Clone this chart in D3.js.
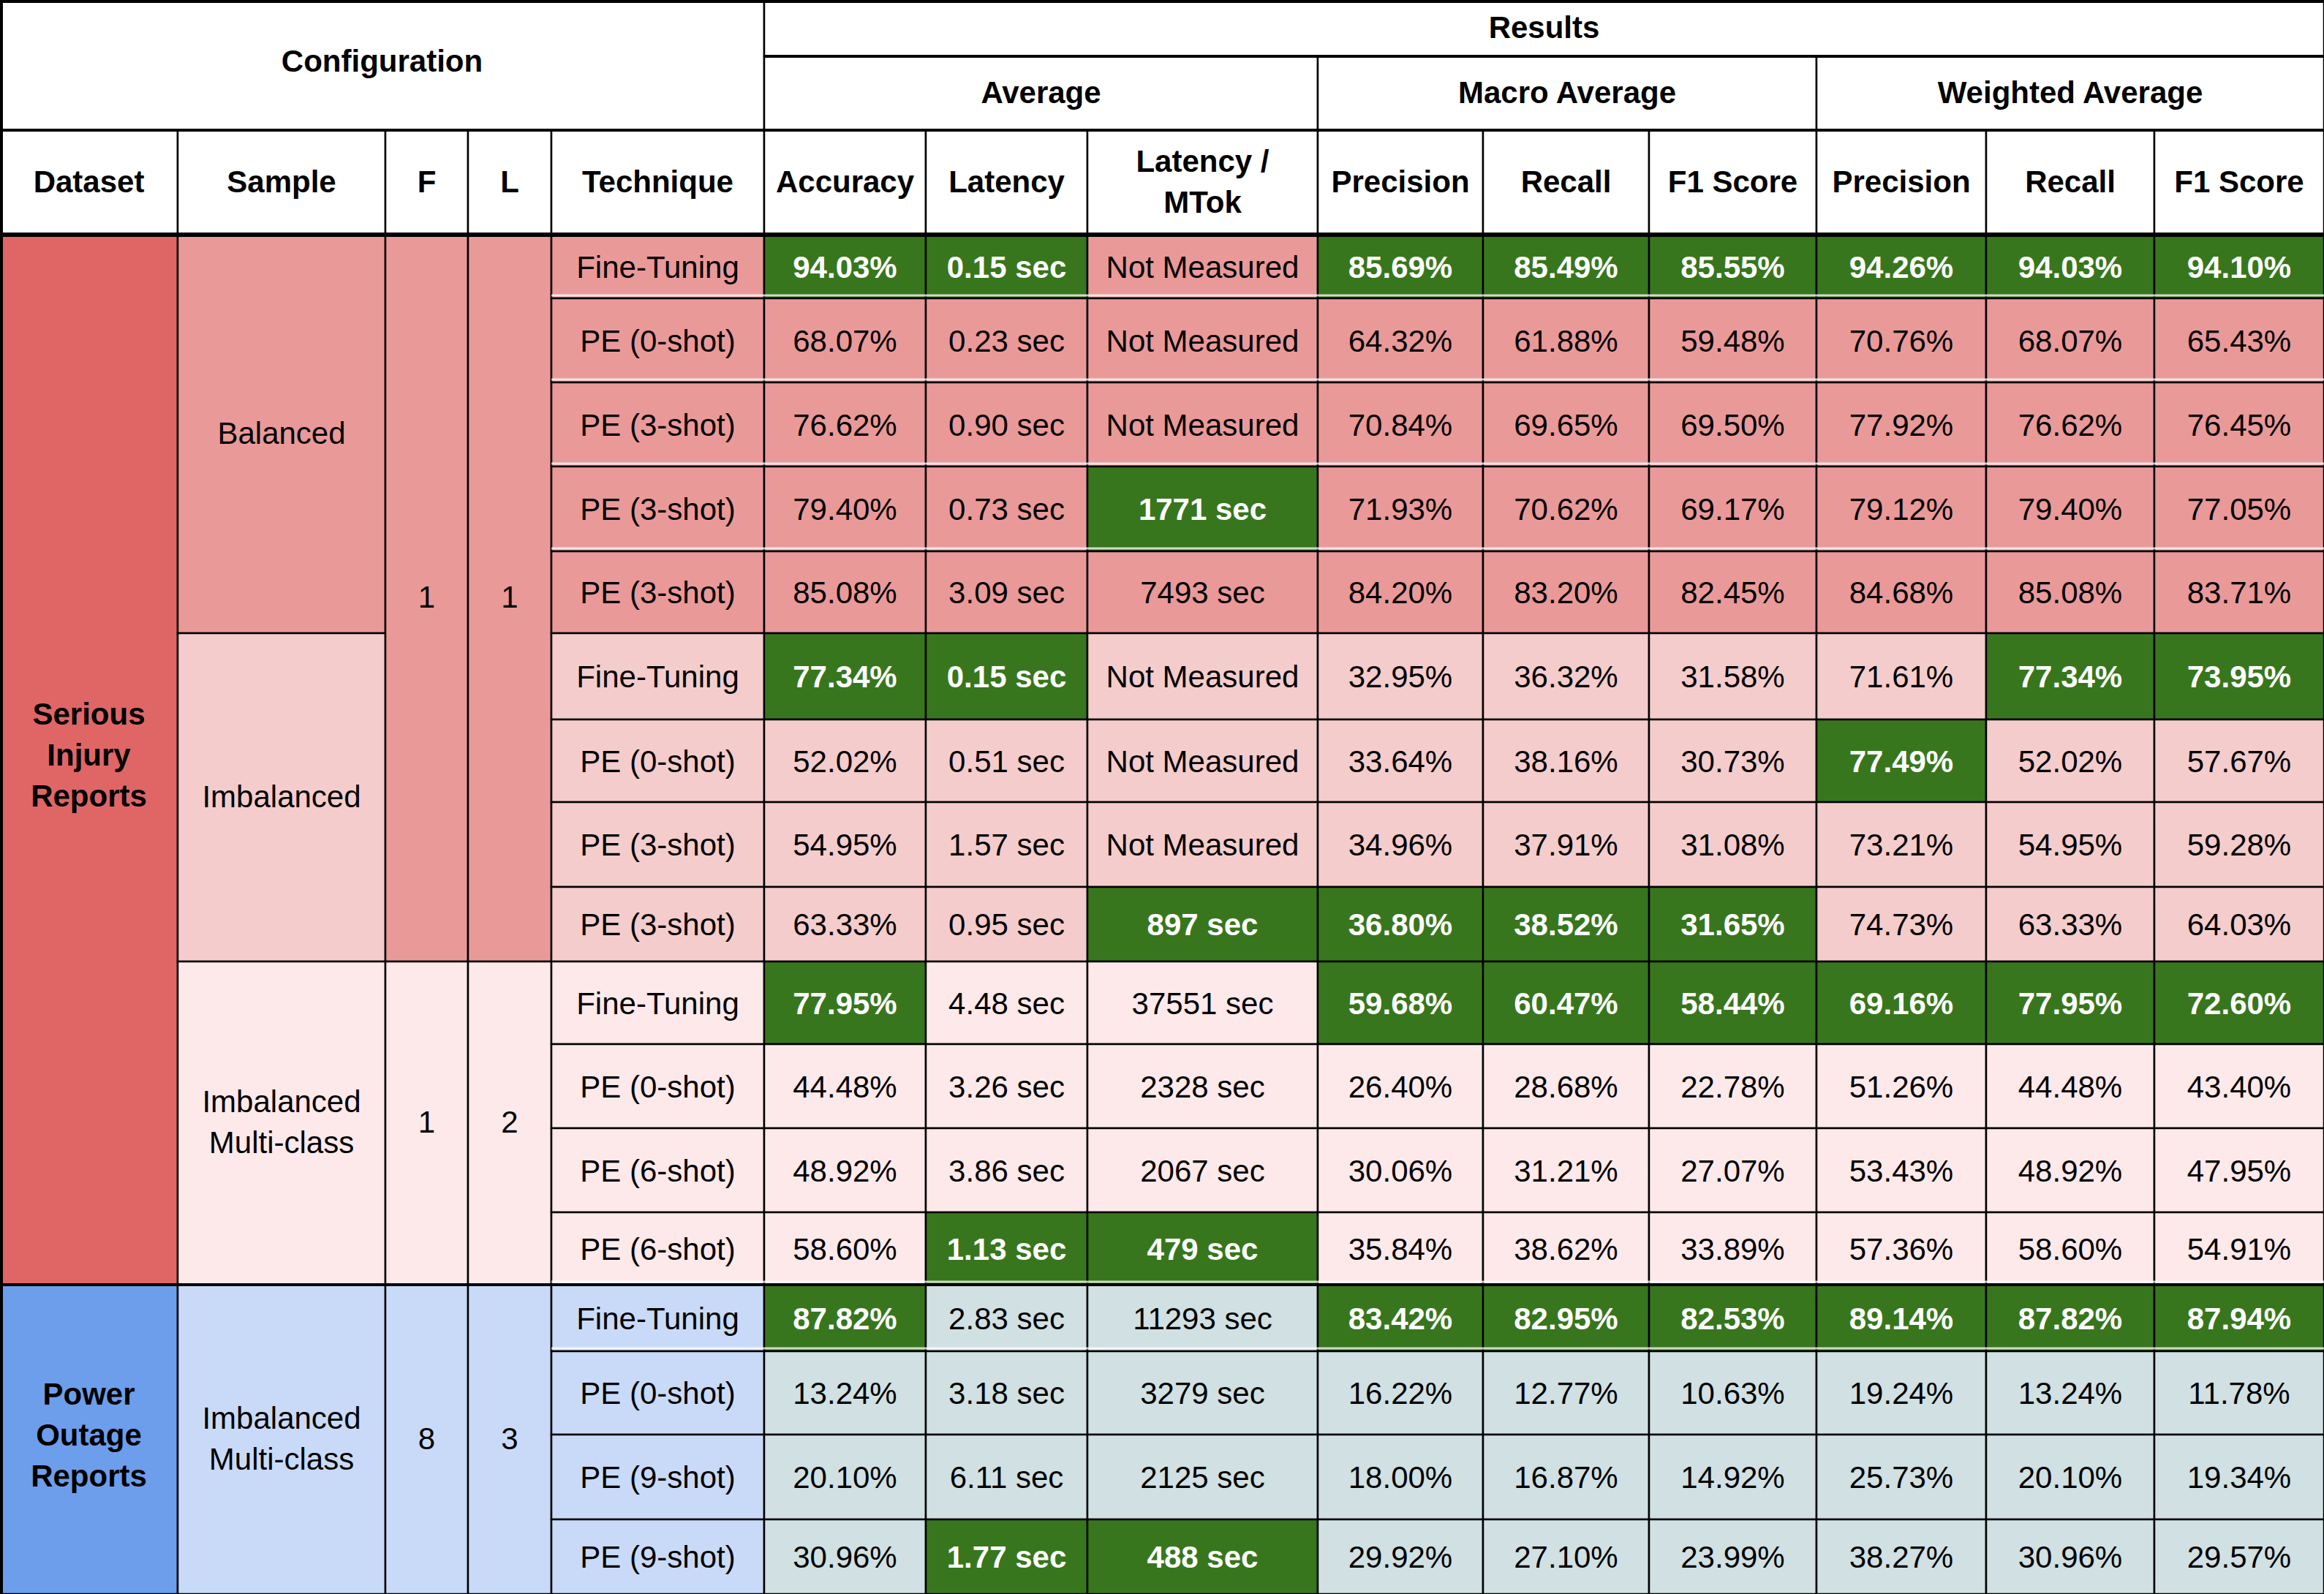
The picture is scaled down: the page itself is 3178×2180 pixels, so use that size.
<!DOCTYPE html>
<html>
<head>
<meta charset="utf-8">
<script src="https://cdn.jsdelivr.net/npm/d3@7"></script>
<style>
  body { margin: 0; background: #fff; }
  svg { display: block; }
  text { font-family: "Liberation Sans", Arial, Helvetica, sans-serif; font-size: 42px; }
</style>
</head>
<body>
<svg id="chart"></svg>
<script>
'use strict';

// ---- data ----
var datasets = [['Serious', 'Injury', 'Reports'], ['Power', 'Outage', 'Reports']];
var datasetRows = [13, 4];
var samples = [['Balanced'], ['Imbalanced'], ['Imbalanced', 'Multi-class'], ['Imbalanced', 'Multi-class']];
var sampleRows = [5, 4, 4, 4];
var fValues = ['1', '1', '8'];
var lValues = ['1', '2', '3'];
var flRows = [9, 4, 4];

var techniques = ['Fine-Tuning', 'PE (0-shot)', 'PE (3-shot)', 'PE (3-shot)', 'PE (3-shot)',
  'Fine-Tuning', 'PE (0-shot)', 'PE (3-shot)', 'PE (3-shot)',
  'Fine-Tuning', 'PE (0-shot)', 'PE (6-shot)', 'PE (6-shot)',
  'Fine-Tuning', 'PE (0-shot)', 'PE (9-shot)', 'PE (9-shot)'];

var accuracy = ['94.03%', '68.07%', '76.62%', '79.40%', '85.08%', '77.34%', '52.02%', '54.95%', '63.33%',
  '77.95%', '44.48%', '48.92%', '58.60%', '87.82%', '13.24%', '20.10%', '30.96%'];
var latency = ['0.15 sec', '0.23 sec', '0.90 sec', '0.73 sec', '3.09 sec', '0.15 sec', '0.51 sec', '1.57 sec', '0.95 sec',
  '4.48 sec', '3.26 sec', '3.86 sec', '1.13 sec', '2.83 sec', '3.18 sec', '6.11 sec', '1.77 sec'];
var latencyMTok = ['Not Measured', 'Not Measured', 'Not Measured', '1771 sec', '7493 sec', 'Not Measured',
  'Not Measured', 'Not Measured', '897 sec', '37551 sec', '2328 sec', '2067 sec', '479 sec',
  '11293 sec', '3279 sec', '2125 sec', '488 sec'];
var macroPrecision = ['85.69%', '64.32%', '70.84%', '71.93%', '84.20%', '32.95%', '33.64%', '34.96%', '36.80%',
  '59.68%', '26.40%', '30.06%', '35.84%', '83.42%', '16.22%', '18.00%', '29.92%'];
var macroRecall = ['85.49%', '61.88%', '69.65%', '70.62%', '83.20%', '36.32%', '38.16%', '37.91%', '38.52%',
  '60.47%', '28.68%', '31.21%', '38.62%', '82.95%', '12.77%', '16.87%', '27.10%'];
var macroF1 = ['85.55%', '59.48%', '69.50%', '69.17%', '82.45%', '31.58%', '30.73%', '31.08%', '31.65%',
  '58.44%', '22.78%', '27.07%', '33.89%', '82.53%', '10.63%', '14.92%', '23.99%'];
var weightedPrecision = ['94.26%', '70.76%', '77.92%', '79.12%', '84.68%', '71.61%', '77.49%', '73.21%', '74.73%',
  '69.16%', '51.26%', '53.43%', '57.36%', '89.14%', '19.24%', '25.73%', '38.27%'];
var weightedRecall = ['94.03%', '68.07%', '76.62%', '79.40%', '85.08%', '77.34%', '52.02%', '54.95%', '63.33%',
  '77.95%', '44.48%', '48.92%', '58.60%', '87.82%', '13.24%', '20.10%', '30.96%'];
var weightedF1 = ['94.10%', '65.43%', '76.45%', '77.05%', '83.71%', '73.95%', '57.67%', '59.28%', '64.03%',
  '72.60%', '43.40%', '47.95%', '54.91%', '87.94%', '11.78%', '19.34%', '29.57%'];

// metric columns that are highlighted (best) in each row
var bestCols = [[0, 1, 3, 4, 5, 6, 7, 8], [], [], [2], [], [0, 1, 7, 8], [6], [], [2, 3, 4, 5],
  [0, 3, 4, 5, 6, 7, 8], [], [], [1, 2], [0, 3, 4, 5, 6, 7, 8], [], [], [1, 2]];

var configHeaders = ['Dataset', 'Sample', 'F', 'L', 'Technique'];
var metricHeaders = [['Accuracy'], ['Latency'], ['Latency /', 'MTok'], ['Precision'], ['Recall'], ['F1 Score'],
  ['Precision'], ['Recall'], ['F1 Score']];
var groupHeaders = ['Average', 'Macro Average', 'Weighted Average'];
var groupSpans = [3, 3, 3];

// ---- layout ----
var W = 3178, H = 2180;
var COL_EDGES = [0, 243, 527, 640, 754, 1045, 1266, 1487, 1802, 2028, 2255, 2484, 2716, 2946, 3178];
var HEAD_EDGES = [0, 77, 178, 321];
var ROW_EDGES = [321, 408, 523, 638, 754, 866, 984, 1097, 1213, 1315, 1428, 1543, 1658, 1757, 1848, 1962, 2078, 2180];
var LINE_H = 56;

var x = d3.scaleOrdinal().domain(d3.range(COL_EDGES.length)).range(COL_EDGES);
var y = d3.scaleOrdinal().domain(d3.range(ROW_EDGES.length)).range(ROW_EDGES);

var GREEN = '#38761d';
var datasetFill = ['#e06666', '#6d9eeb'];
var sampleFill = ['#ea9999', '#f4cccc', '#fde9ea', '#c9daf8'];
var flFill = ['#ea9999', '#fde9ea', '#c9daf8'];
var dataFill = ['#ea9999', '#f4cccc', '#fde9ea', '#d0e0e3'];

var svg = d3.select('#chart').attr('width', W).attr('height', H);

var cells = [];
function addCell(x0, y0, x1, y1, lines, fill, bold, color, shift) {
  cells.push({ x0: x0, y0: y0, x1: x1, y1: y1, lines: lines, fill: fill, bold: bold,
    color: color || '#000', shift: shift || 0 });
}

// header
addCell(0, HEAD_EDGES[0], x(5), HEAD_EDGES[2], ['Configuration'], '#fff', true, null, -6);
addCell(x(5), HEAD_EDGES[0], x(14), HEAD_EDGES[1], ['Results'], '#fff', true, null, -2);
var gc = 5;
groupHeaders.forEach(function (g, i) {
  addCell(x(gc), HEAD_EDGES[1], x(gc + groupSpans[i]), HEAD_EDGES[2], [g], '#fff', true, null, -2);
  gc += groupSpans[i];
});
configHeaders.forEach(function (h, i) {
  addCell(x(i), HEAD_EDGES[2], x(i + 1), HEAD_EDGES[3], [h], '#fff', true, null, -2);
});
metricHeaders.forEach(function (h, i) {
  addCell(x(i + 5), HEAD_EDGES[2], x(i + 6), HEAD_EDGES[3], h, '#fff', true, null, -2);
});

// spanning config columns
function spans(counts, labels, col, fills, bold, shift) {
  var r = 0;
  counts.forEach(function (n, i) {
    addCell(x(col), y(r), x(col + 1), y(r + n), [].concat(labels[i]), fills[i], bold, null, shift);
    r += n;
  });
}
spans(datasetRows, datasets, 0, datasetFill, true, -7);
spans(sampleRows, samples, 1, sampleFill, false, -2);
spans(flRows, fValues, 2, flFill, false, -2);
spans(flRows, lValues, 3, flFill, false, -2);

// per-row group index (sample groups)
var rowGroup = [];
sampleRows.forEach(function (n, i) { for (var k = 0; k < n; k++) rowGroup.push(i); });

var metrics = [accuracy, latency, latencyMTok, macroPrecision, macroRecall, macroF1,
  weightedPrecision, weightedRecall, weightedF1];

techniques.forEach(function (t, r) {
  addCell(x(4), y(r), x(5), y(r + 1), [t], sampleFill[rowGroup[r]], false);
  metrics.forEach(function (m, c) {
    var best = bestCols[r].indexOf(c) >= 0;
    addCell(x(c + 5), y(r), x(c + 6), y(r + 1), [m[r]],
      best ? GREEN : dataFill[rowGroup[r]], best, best ? '#fff' : '#000');
  });
});

var g = svg.selectAll('g.cell').data(cells).enter().append('g').attr('class', 'cell');

g.append('rect')
  .attr('x', function (d) { return d.x0; })
  .attr('y', function (d) { return d.y0; })
  .attr('width', function (d) { return d.x1 - d.x0; })
  .attr('height', function (d) { return d.y1 - d.y0; })
  .attr('fill', function (d) { return d.fill; });

// faint white separators just above some row borders
var whiteRows = [0, 1, 2, 3, 12, 13];
svg.selectAll('line.sep').data(whiteRows).enter().append('line')
  .attr('x1', x(4)).attr('x2', W)
  .attr('y1', function (r) { return y(r + 1) - 4; })
  .attr('y2', function (r) { return y(r + 1) - 4; })
  .attr('stroke', '#fff').attr('stroke-opacity', 0.75).attr('stroke-width', 3);

g.append('rect')
  .attr('x', function (d) { return d.x0; })
  .attr('y', function (d) { return d.y0; })
  .attr('width', function (d) { return d.x1 - d.x0; })
  .attr('height', function (d) { return d.y1 - d.y0; })
  .attr('fill', 'none')
  .attr('stroke', '#000')
  .attr('stroke-width', 2.5);

g.append('text')
  .attr('text-anchor', 'middle')
  .attr('fill', function (d) { return d.color; })
  .attr('font-weight', function (d) { return d.bold ? 'bold' : 'normal'; })
  .each(function (d) {
    var cx = (d.x0 + d.x1) / 2, cy = (d.y0 + d.y1) / 2 + d.shift;
    var n = d.lines.length;
    d3.select(this).selectAll('tspan').data(d.lines).enter().append('tspan')
      .attr('x', cx)
      .attr('y', function (l, i) { return cy + (i - (n - 1) / 2) * LINE_H; })
      .attr('dy', '0.36em')
      .text(function (l) { return l; });
  });

// heavier rules: outer frame and header separators
var heavy = [
  { x1: 0, x2: W, y: 2 },
  { x1: x(5), x2: W, y: HEAD_EDGES[1] },
  { x1: 0, x2: W, y: HEAD_EDGES[2] },
  { x1: 0, x2: W, y: HEAD_EDGES[3], w: 6 },
  { x1: 0, x2: W, y: ROW_EDGES[13] }
];
svg.selectAll('line.heavy').data(heavy).enter().append('line')
  .attr('x1', function (d) { return d.x1; })
  .attr('x2', function (d) { return d.x2; })
  .attr('y1', function (d) { return d.y; })
  .attr('y2', function (d) { return d.y; })
  .attr('stroke', '#000')
  .attr('stroke-width', function (d) { return d.w || 4; });

svg.append('line').attr('x1', 2).attr('x2', 2).attr('y1', 0).attr('y2', H)
  .attr('stroke', '#000').attr('stroke-width', 4);
</script>
</body>
</html>
